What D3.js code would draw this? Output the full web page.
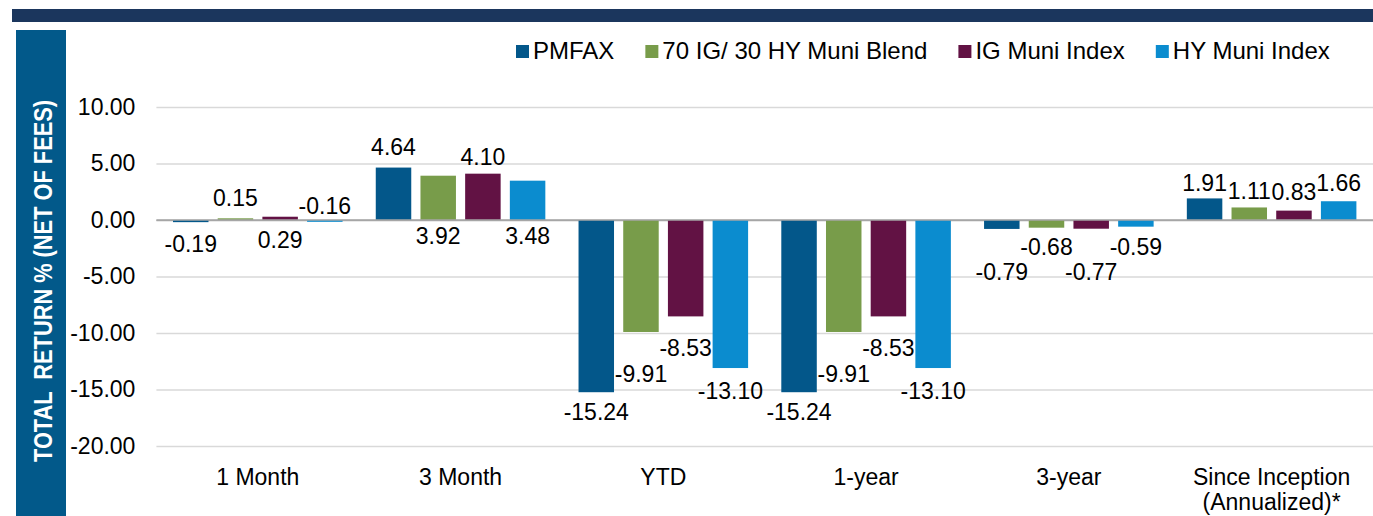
<!DOCTYPE html>
<html>
<head>
<meta charset="utf-8">
<script src="https://cdn.jsdelivr.net/npm/d3@7"></script>
<style>
  html, body { margin: 0; padding: 0; background: #ffffff; }
  svg { display: block; font-family: "Liberation Sans", Arial, sans-serif; }
</style>
</head>
<body>
<svg id="chart" width="1373" height="516"></svg>
<script>
// ---- data ----
const categories = ["1 Month", "3 Month", "YTD", "1-year", "3-year", "Since Inception (Annualized)*"];
const categoryLines = [["1 Month"], ["3 Month"], ["YTD"], ["1-year"], ["3-year"], ["Since Inception", "(Annualized)*"]];
const seriesNames = ["PMFAX", "70 IG/ 30 HY Muni Blend", "IG Muni Index", "HY Muni Index"];
const pmfax  = [-0.19, 4.64, -15.24, -15.24, -0.79, 1.91];
const blend  = [0.15, 3.92, -9.91, -9.91, -0.68, 1.11];
const igMuni = [0.29, 4.10, -8.53, -8.53, -0.77, 0.83];
const hyMuni = [-0.16, 3.48, -13.10, -13.10, -0.59, 1.66];
const yTicks = [10, 5, 0, -5, -10, -15, -20];
const yTitle = "TOTAL  RETURN % (NET OF FEES)";

// ---- styles ----
const seriesValues = [pmfax, blend, igMuni, hyMuni];
const colors = ["#03578a", "#789c4a", "#621244", "#0b8ccf"];
// vertical offset (px) of each value label's centre from the end of its bar
const labelDy = [
  [22, -21, 20, 20, 43, -15],
  [-20, 60, 42, 42, 19, -17],
  [23, -17, 32, 32, 43, -19],
  [-16, 55, 23, 23, 20, -18]
];

const fmt = d3.formatLocale({ decimal: ".", thousands: ",", grouping: [3], currency: ["", ""], minus: "-" }).format(".2f");

const svg = d3.select("#chart");

// frame decorations
svg.append("rect").attr("x", 12).attr("y", 9).attr("width", 1361).attr("height", 13).attr("fill", "#1b365d");
svg.append("rect").attr("x", 16).attr("y", 30).attr("width", 50).attr("height", 486).attr("fill", "#02598a");
svg.append("text")
  .attr("transform", "translate(43,281) rotate(-90)")
  .attr("text-anchor", "middle")
  .attr("dy", "0.35em")
  .attr("fill", "#ffffff")
  .attr("font-weight", "bold")
  .attr("font-size", 25)
  .attr("textLength", 362)
  .attr("lengthAdjust", "spacingAndGlyphs")
  .style("white-space", "pre")
  .text(yTitle);

// scales
const plotLeft = 156.4, plotRight = 1373;
const y = d3.scaleLinear().domain([-20, 10]).range([446, 107]);
const x0 = d3.scaleBand().domain(categories).range([plotLeft, plotRight]).padding(0);
const groupInset = 16.6;
const x1 = d3.scaleBand().domain(seriesNames)
  .range([groupInset, x0.bandwidth() - groupInset])
  .paddingInner(0.206).paddingOuter(0);

// gridlines + tick labels
const gAxis = svg.append("g")
  .attr("transform", `translate(${plotLeft},0)`)
  .call(d3.axisLeft(y).tickValues(yTicks).tickSize(-(plotRight - plotLeft)).tickFormat(fmt).tickPadding(21));
gAxis.select(".domain").remove();
gAxis.selectAll(".tick line").attr("stroke", d => d === 0 ? "#a6a6a6" : "#d9d9d9").attr("stroke-width", 1.5);
gAxis.selectAll(".tick text").attr("font-size", 23).attr("fill", "#000").attr("font-family", "Liberation Sans, Arial, sans-serif");

// bars
const groups = svg.append("g").selectAll("g")
  .data(categories)
  .join("g")
  .attr("transform", d => `translate(${x0(d)},0)`);

groups.each(function (cat, ci) {
  const g = d3.select(this);
  seriesNames.forEach((s, si) => {
    const v = seriesValues[si][ci];
    g.append("rect")
      .attr("x", x1(s))
      .attr("width", x1.bandwidth())
      .attr("y", Math.min(y(v), y(0)))
      .attr("height", Math.max(1, Math.abs(y(v) - y(0))))
      .attr("fill", colors[si]);
  });
});

// zero line on top of bars
svg.append("line").attr("x1", plotLeft).attr("x2", plotRight).attr("y1", y(0)).attr("y2", y(0))
  .attr("stroke", "#a6a6a6").attr("stroke-width", 1.5);

// value labels
groups.each(function (cat, ci) {
  const g = d3.select(this);
  seriesNames.forEach((s, si) => {
    const v = seriesValues[si][ci];
    g.append("text")
      .attr("x", x1(s) + x1.bandwidth() / 2)
      .attr("y", y(v) + labelDy[si][ci])
      .attr("dy", "0.35em")
      .attr("text-anchor", "middle")
      .attr("font-size", 23)
      .attr("fill", "#000")
      .text(fmt(v));
  });
});

// category labels
groups.each(function (cat, ci) {
  const g = d3.select(this);
  const t = g.append("text")
    .attr("text-anchor", "middle")
    .attr("font-size", 23)
    .attr("fill", "#000");
  categoryLines[ci].forEach((line, li) => {
    t.append("tspan").attr("x", x0.bandwidth() / 2).attr("y", 485 + li * 25).text(line);
  });
});

// legend
const legend = svg.append("g");
let lx = 516;
seriesNames.forEach((s, si) => {
  legend.append("rect").attr("x", lx).attr("y", 45).attr("width", 13).attr("height", 13).attr("fill", colors[si]);
  const t = legend.append("text").attr("x", lx + 17).attr("y", 59).attr("font-size", 24).attr("fill", "#000").text(s);
  lx += 17 + t.node().getComputedTextLength() + 31;
});
</script>
</body>
</html>
